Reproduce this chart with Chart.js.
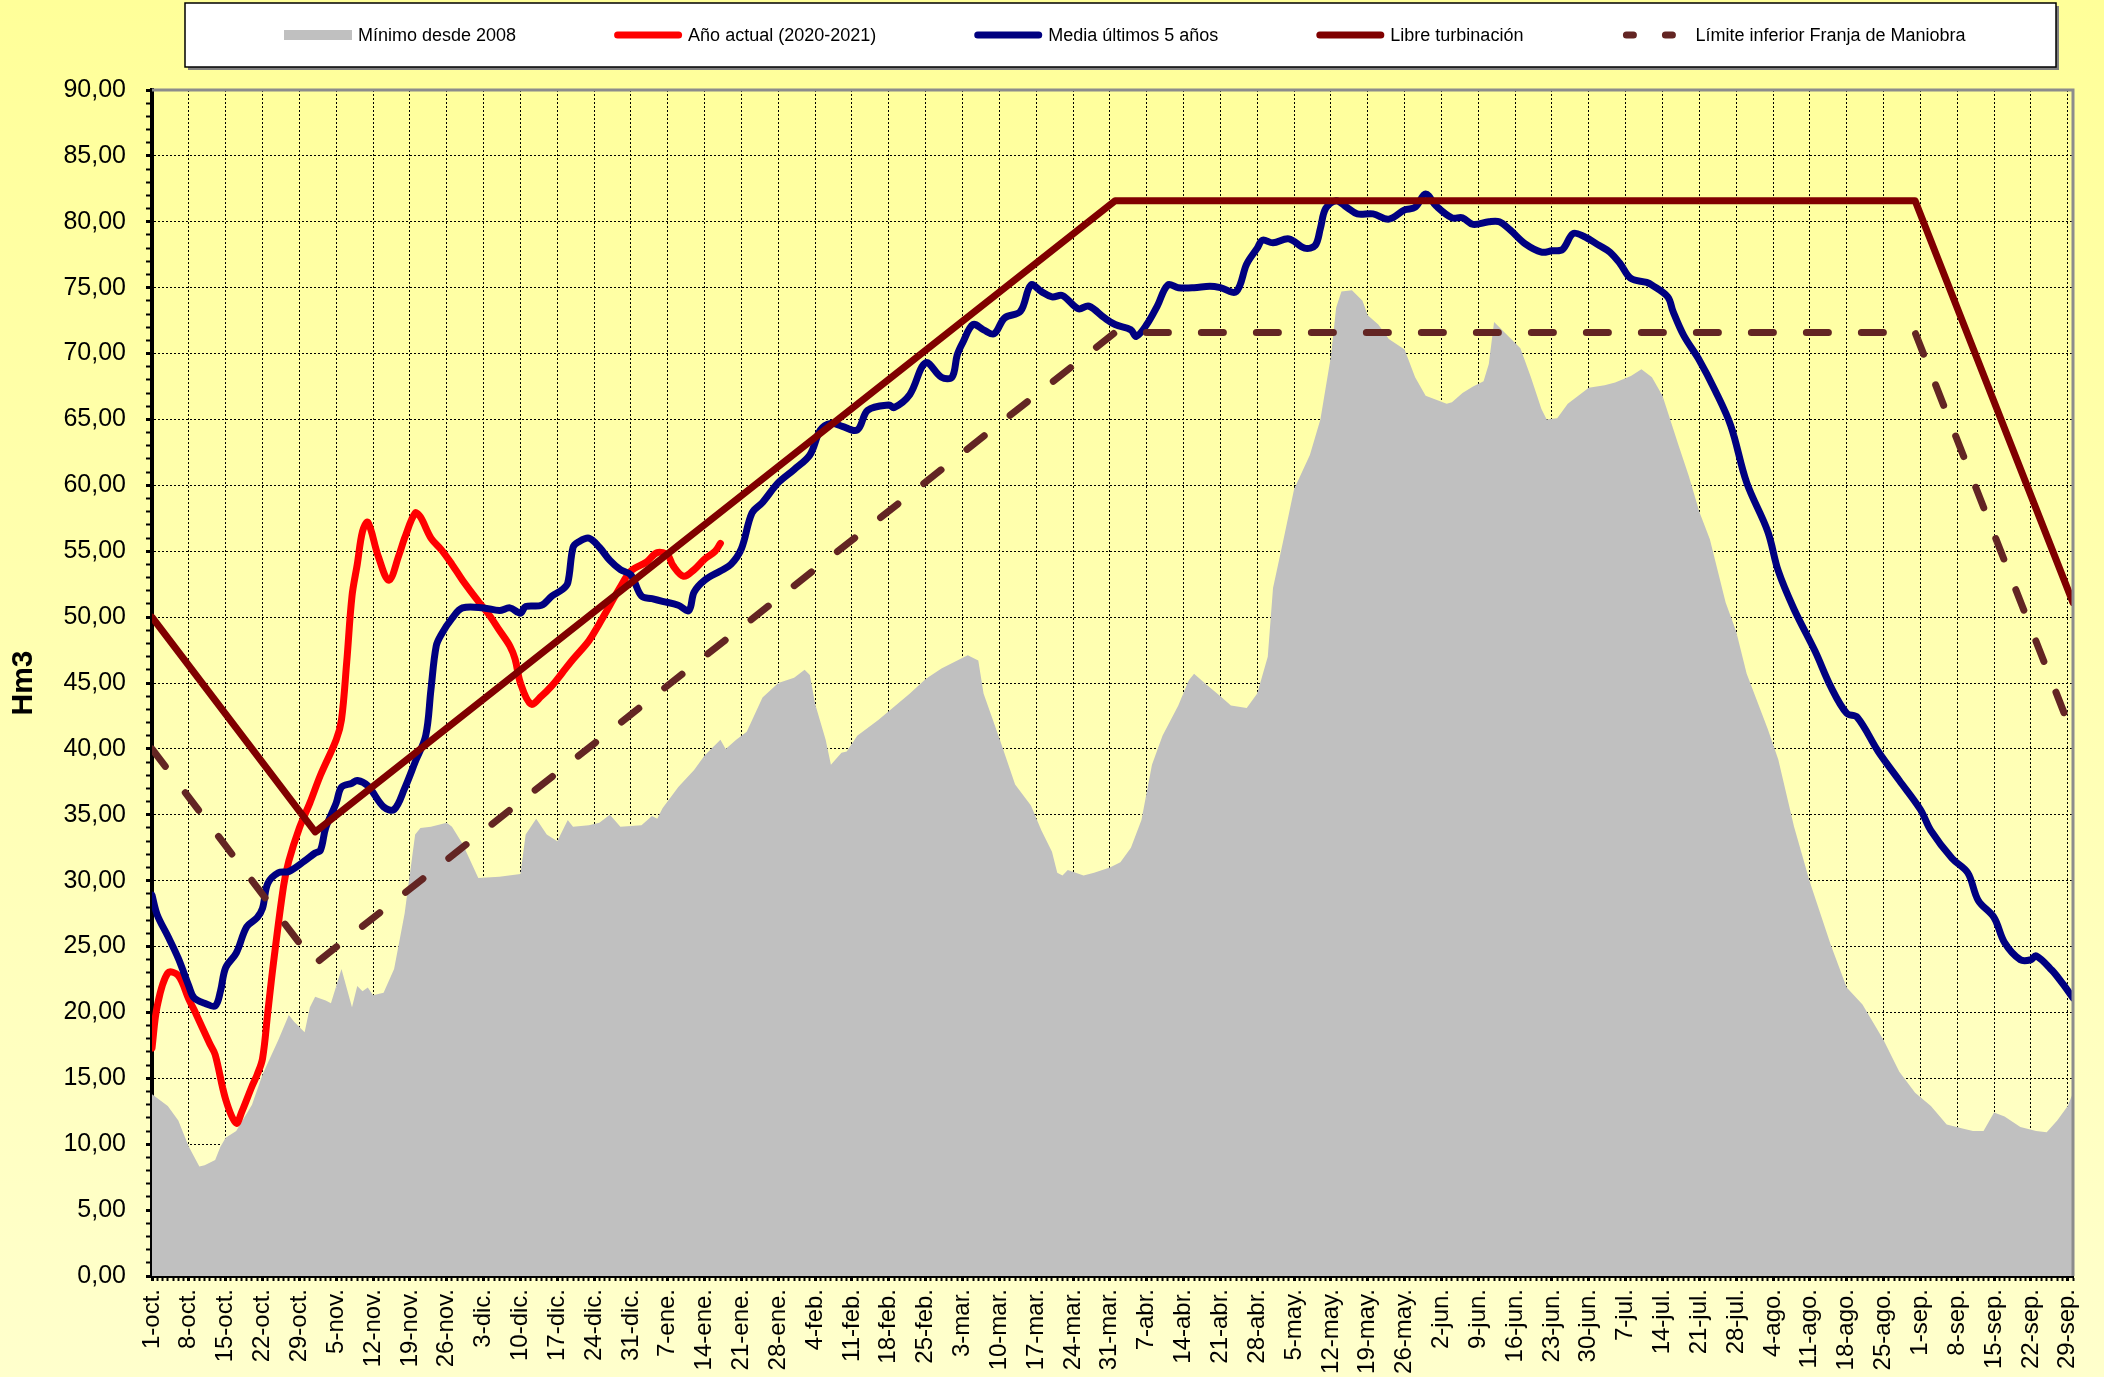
<!DOCTYPE html>
<html lang="es">
<head>
<meta charset="utf-8">
<title>Volumen embalsado (Hm3)</title>
<script src="https://cdn.jsdelivr.net/npm/chart.js@4.4.1/dist/chart.umd.min.js"></script>
<style>
  html, body { margin: 0; padding: 0; }
  body { width: 2104px; height: 1377px; overflow: hidden; background: linear-gradient(#ffff99, #ffffcc); }
  canvas { display: block; }
</style>
</head>
<body>
<canvas id="grafico" width="2104" height="1377"></canvas>
<script>
// etiquetas del eje X, una por semana (día 0 = 1-oct, año de 366 días)
const etiquetasSemana = ["1-oct.", "8-oct.", "15-oct.", "22-oct.", "29-oct.", "5-nov.", "12-nov.", "19-nov.", "26-nov.",
  "3-dic.", "10-dic.", "17-dic.", "24-dic.", "31-dic.", "7-ene.", "14-ene.", "21-ene.", "28-ene.", "4-feb.", "11-feb.",
  "18-feb.", "25-feb.", "3-mar.", "10-mar.", "17-mar.", "24-mar.", "31-mar.", "7-abr.", "14-abr.", "21-abr.", "28-abr.",
  "5-may.", "12-may.", "19-may.", "26-may.", "2-jun.", "9-jun.", "16-jun.", "23-jun.", "30-jun.", "7-jul.", "14-jul.",
  "21-jul.", "28-jul.", "4-ago.", "11-ago.", "18-ago.", "25-ago.", "1-sep.", "8-sep.", "15-sep.", "22-sep.", "29-sep."];

// Mínimo desde 2008 (día, Hm3)
const minimoDia = [0, 3, 5, 6, 7, 9, 10, 12, 13, 14, 16, 19, 21, 24, 26, 27, 29, 30, 31, 33, 34, 36, 38, 39, 40, 41, 42, 44,
  46, 48, 50, 51, 53, 56, 57, 59, 62, 66, 70, 71, 73, 75, 77, 79, 80, 83, 85, 87, 89, 93, 95, 96, 97, 100, 103, 105, 108,
  109, 111, 113, 116, 119, 122, 124, 125, 126, 128, 129, 131, 132, 134, 138, 141, 144, 147, 150, 153, 155, 157, 158, 161,
  164, 167, 169, 171, 172, 173, 174, 177, 179, 182, 184, 186, 188, 190, 192, 195, 197, 198, 200, 203, 205, 208, 210, 212,
  213, 215, 217, 220, 222, 224, 225, 226, 228, 230, 231, 233, 235, 238, 240, 242, 244, 246, 247, 249, 251, 253, 254, 255,
  257, 260, 262, 264, 265, 267, 269, 272, 273, 276, 278, 281, 283, 285, 287, 290, 292, 294, 296, 299, 301, 303, 307, 309,
  312, 315, 319, 322, 325, 329, 332, 335, 338, 341, 344, 346, 348, 350, 352, 355, 358, 360, 362, 364, 365];
const minimoHm3 = [13.8, 12.9, 11.8, 10.8, 9.8, 8.3, 8.4, 8.8, 9.8, 10.5, 11.0, 13.0, 15.3, 17.9, 19.8, 19.3, 18.5, 20.4,
  21.2, 20.9, 20.7, 23.3, 20.4, 22.0, 21.6, 21.9, 21.3, 21.5, 23.3, 27.5, 33.5, 34.0, 34.1, 34.4, 34.1, 32.8, 30.2, 30.3,
  30.5, 33.5, 34.7, 33.5, 33.0, 34.6, 34.1, 34.2, 34.4, 35.0, 34.1, 34.2, 34.9, 34.7, 35.5, 37.1, 38.4, 39.5, 40.7, 40.0,
  40.7, 41.3, 43.9, 45.0, 45.4, 46.0, 45.6, 43.4, 40.7, 38.8, 39.7, 39.8, 41.0, 42.2, 43.2, 44.2, 45.3, 46.1, 46.7, 47.1,
  46.7, 44.2, 40.8, 37.3, 35.7, 33.8, 32.2, 30.6, 30.4, 30.8, 30.4, 30.6, 31.0, 31.4, 32.5, 34.6, 38.8, 41.0, 43.3, 45.2,
  45.7, 45.0, 44.0, 43.3, 43.1, 44.2, 47.0, 52.2, 55.9, 59.7, 62.3, 65.0, 69.8, 73.5, 74.7, 74.8, 74.0, 72.9, 72.2, 71.1,
  70.3, 68.2, 66.8, 66.5, 66.2, 66.3, 67.0, 67.5, 67.9, 69.2, 72.4, 71.6, 70.4, 68.2, 65.8, 65.0, 65.1, 66.2, 67.1, 67.4,
  67.6, 67.8, 68.3, 68.8, 68.2, 66.8, 63.1, 60.7, 58.0, 55.9, 51.1, 48.9, 45.7, 41.5, 39.2, 34.1, 29.9, 25.1, 21.9, 20.6,
  17.9, 15.5, 13.9, 12.9, 11.5, 11.2, 11.0, 11.0, 12.4, 12.1, 11.3, 11.0, 10.9, 11.8, 12.9, 13.9];

// Año actual (2020-2021)
const actualDia = [0, 1, 3, 5, 7, 8, 11, 12, 14, 16, 17, 19, 20, 21, 22, 23, 25, 26, 28, 30, 32, 35, 36, 37, 38, 39, 40, 41,
  43, 45, 47, 48, 50, 51, 53, 55, 57, 59, 62, 64, 66, 68, 69, 70, 72, 74, 76, 78, 80, 83, 85, 87, 89, 91, 94, 96, 98, 99,
  101, 103, 105, 107, 108];
const actualHm3 = [17.3, 20.5, 23.0, 22.8, 21.0, 20.2, 17.6, 16.8, 13.4, 11.6, 12.4, 14.4, 15.3, 16.5, 20.0, 23.5, 29.6,
  31.5, 34.0, 35.9, 38.0, 40.7, 42.2, 46.6, 51.6, 54.0, 56.5, 57.2, 54.6, 52.8, 54.8, 56.0, 57.9, 57.6, 56.0, 55.1, 54.0,
  52.8, 51.2, 50.2, 49.0, 47.8, 46.8, 45.0, 43.4, 44.0, 44.8, 45.8, 46.8, 48.2, 49.5, 50.9, 52.3, 53.5, 54.2, 54.9, 54.7,
  53.9, 53.1, 53.6, 54.4, 55.0, 55.6];

// Media últimos 5 años
const mediaDia = [0, 1, 3, 5, 7, 8, 10, 12, 13, 14, 16, 18, 20, 21, 22, 24, 26, 29, 31, 32, 33, 35, 36, 38, 39, 41, 44, 46,
  48, 50, 52, 53, 54, 55, 57, 59, 63, 66, 68, 70, 71, 74, 76, 78, 79, 80, 81, 83, 85, 87, 89, 91, 93, 95, 97, 100, 102, 103,
  105, 108, 110, 112, 114, 116, 119, 122, 125, 127, 129, 131, 134, 136, 140, 141, 144, 147, 150, 152, 153, 154, 156, 158,
  160, 162, 165, 167, 169, 171, 173, 176, 178, 181, 183, 186, 187, 189, 191, 193, 195, 198, 201, 203, 206, 208, 210, 211,
  213, 216, 219, 221, 222, 223, 225, 227, 229, 232, 235, 238, 240, 242, 244, 247, 249, 251, 254, 256, 258, 261, 264, 266,
  268, 270, 272, 275, 277, 279, 281, 284, 285, 288, 289, 291, 294, 297, 300, 303, 307, 309, 312, 316, 319, 322, 324, 328,
  332, 336, 338, 342, 345, 347, 350, 352, 355, 357, 358, 361, 363, 365];
const mediaHm3 = [28.9, 27.4, 25.8, 24.1, 22.0, 21.1, 20.7, 20.5, 21.6, 23.4, 24.5, 26.5, 27.2, 27.9, 29.8, 30.6, 30.7,
  31.5, 32.1, 32.3, 34.0, 35.9, 37.1, 37.4, 37.6, 37.2, 35.6, 35.4, 37.0, 39.0, 41.0, 44.5, 47.8, 48.7, 49.9, 50.7, 50.7,
  50.5, 50.7, 50.3, 50.8, 50.9, 51.6, 52.1, 52.6, 55.3, 55.7, 56.0, 55.3, 54.3, 53.6, 53.2, 51.6, 51.4, 51.2, 50.9, 50.5,
  51.9, 52.8, 53.5, 54.0, 55.2, 57.9, 58.7, 60.2, 61.2, 62.3, 64.2, 64.7, 64.5, 64.2, 65.7, 66.1, 65.9, 66.9, 69.3, 68.2,
  68.2, 69.9, 70.8, 72.2, 71.8, 71.5, 72.7, 73.2, 75.2, 74.7, 74.3, 74.4, 73.4, 73.6, 72.7, 72.2, 71.8, 71.3, 72.2, 73.6,
  75.2, 75.0, 75.0, 75.1, 75.0, 74.7, 76.8, 78.0, 78.6, 78.4, 78.7, 78.0, 78.2, 79.5, 81.0, 81.6, 81.1, 80.6, 80.6, 80.2,
  80.9, 81.1, 82.1, 81.2, 80.3, 80.3, 79.8, 80.0, 80.0, 79.4, 78.3, 77.7, 77.8, 77.9, 79.1, 78.9, 78.2, 77.7, 76.8, 75.7,
  75.4, 75.2, 74.3, 73.2, 71.4, 69.5, 67.2, 64.5, 60.2, 56.5, 53.5, 50.6, 47.4, 44.7, 42.7, 42.4, 39.8, 37.6, 35.4, 33.8,
  31.7, 30.6, 28.5, 27.2, 25.3, 24.0, 24.0, 24.3, 23.2, 22.2, 21.1];

// Libre turbinación y Límite inferior Franja de Maniobra (tramos rectos)
const libreDia = [0, 31, 183, 335, 365];
const libreHm3 = [50.0, 33.7, 81.6, 81.6, 51.1];
const limiteDia = [0, 31, 183, 335, 365];
const limiteHm3 = [40.0, 23.7, 71.6, 71.6, 41.0];

const fuente = '"Liberation Sans", Arial, sans-serif';

function puntos(dias, valores) {
    return dias.map((d, i) => ({ x: d, y: valores[i] }));
}

// leyenda dibujada a mano, en una caja blanca arriba
const leyenda = {
    id: 'leyenda',
    afterDraw(chart) {
        const ctx = chart.ctx;
        ctx.save();
        ctx.fillStyle = '#7f7f7f';
        ctx.fillRect(188, 6, 1871, 64);
        ctx.fillStyle = '#ffffff';
        ctx.fillRect(185, 3, 1871, 64);
        ctx.strokeStyle = '#000000';
        ctx.lineWidth = 1.5;
        ctx.strokeRect(185, 3, 1871, 64);

        ctx.font = '18px ' + fuente;
        ctx.textBaseline = 'middle';
        const y = 35;
        let x = 284;
        chart.data.datasets.forEach(ds => {
            if (ds.fill) {
                ctx.fillStyle = ds.backgroundColor;
                ctx.fillRect(x, y - 5, 68, 10);
            } else {
                ctx.strokeStyle = ds.borderColor;
                ctx.lineWidth = ds.borderWidth;
                ctx.lineCap = 'round';
                ctx.setLineDash(ds.borderDash ? [7, 32] : []);
                ctx.beginPath();
                ctx.moveTo(ds.borderDash ? x + 5 : x + 3.5, y);
                ctx.lineTo(x + 64.5, y);
                ctx.stroke();
                ctx.setLineDash([]);
            }
            ctx.fillStyle = '#000000';
            ctx.fillText(ds.label, x + 74, y + 1);
            x += 74 + ctx.measureText(ds.label).width + 98;
        });
        ctx.restore();
    }
};

// borde gris arriba y a la derecha del área de trazado
const bordeArea = {
    id: 'bordeArea',
    afterDatasetsDraw(chart) {
        const { ctx, chartArea: a } = chart;
        ctx.save();
        ctx.strokeStyle = '#8c8c8c';
        ctx.lineWidth = 3;
        ctx.beginPath();
        ctx.moveTo(a.left, a.top);
        ctx.lineTo(a.right, a.top);
        ctx.lineTo(a.right, a.bottom);
        ctx.stroke();
        ctx.restore();
    }
};

new Chart(document.getElementById('grafico'), {
    type: 'line',
    data: {
        datasets: [
            {
                label: 'Mínimo desde 2008',
                data: puntos(minimoDia, minimoHm3),
                backgroundColor: '#c0c0c0',
                borderWidth: 0,
                fill: 'origin',
                tension: 0,
                order: 5
            },
            {
                label: 'Año actual (2020-2021)',
                data: puntos(actualDia, actualHm3),
                borderColor: '#ff0000',
                borderWidth: 7,
                tension: 0.35,
                order: 4
            },
            {
                label: 'Media últimos 5 años',
                data: puntos(mediaDia, mediaHm3),
                borderColor: '#000080',
                borderWidth: 7,
                tension: 0.35,
                order: 3
            },
            {
                label: 'Libre turbinación',
                data: puntos(libreDia, libreHm3),
                borderColor: '#800000',
                borderWidth: 7,
                tension: 0,
                order: 2
            },
            {
                label: 'Límite inferior Franja de Maniobra',
                data: puntos(limiteDia, limiteHm3),
                borderColor: '#632523',
                borderWidth: 7,
                borderDash: [22, 33],
                borderCapStyle: 'round',
                tension: 0,
                order: 1
            }
        ]
    },
    options: {
        responsive: false,
        devicePixelRatio: 1,
        animation: false,
        events: [],
        layout: { padding: { top: 90, right: 31, left: 0, bottom: 0 } },
        elements: {
            point: { radius: 0 },
            line: { borderJoinStyle: 'round', borderCapStyle: 'round' }
        },
        plugins: {
            legend: { display: false },
            tooltip: { enabled: false }
        },
        scales: {
            x: {
                type: 'linear',
                min: 0,
                max: 365,
                afterBuildTicks: scale => {
                    const t = [];
                    for (let d = 0; d <= 365; d++) t.push({ value: d });
                    scale.ticks = t;
                },
                afterFit: scale => {
                    scale.height = 101;
                    scale.paddingLeft = 0;
                    scale.paddingRight = 0;
                },
                ticks: {
                    autoSkip: false,
                    minRotation: 90,
                    maxRotation: 90,
                    padding: 8,
                    color: '#000000',
                    font: { family: fuente, size: 24 },
                    callback: value => value % 7 === 0 ? etiquetasSemana[value / 7] : ''
                },
                grid: {
                    color: c => (c.tick && c.tick.value % 7 === 0) ? '#000000' : 'rgba(0,0,0,0)',
                    lineWidth: 1,
                    tickLength: 5,
                    tickColor: '#000000',
                    tickWidth: c => (c.tick && c.tick.value % 7 === 0) ? 3 : 2
                },
                border: { color: '#000000', width: 4, dash: [2, 2] }
            },
            y: {
                min: 0,
                max: 90,
                afterBuildTicks: scale => {
                    const t = [];
                    for (let v = 0; v <= 90; v++) t.push({ value: v });
                    scale.ticks = t;
                },
                afterFit: scale => { scale.width = 152; },
                ticks: {
                    autoSkip: false,
                    padding: 20,
                    color: '#000000',
                    font: { family: fuente, size: 25 },
                    callback: value => value % 5 === 0 ? value.toFixed(2).replace('.', ',') : ''
                },
                grid: {
                    color: c => (c.tick && c.tick.value % 5 === 0) ? '#000000' : 'rgba(0,0,0,0)',
                    lineWidth: 1,
                    tickLength: 6,
                    tickColor: '#000000',
                    tickWidth: c => (c.tick && c.tick.value % 5 === 0) ? 3 : 2
                },
                border: { color: '#000000', width: 4, dash: [2, 2] },
                title: {
                    display: true,
                    text: 'Hm3',
                    color: '#000000',
                    font: { family: fuente, size: 30, weight: 'bold' },
                    padding: { top: 6, bottom: 0 }
                }
            }
        }
    },
    plugins: [leyenda, bordeArea]
});
</script>
</body>
</html>
